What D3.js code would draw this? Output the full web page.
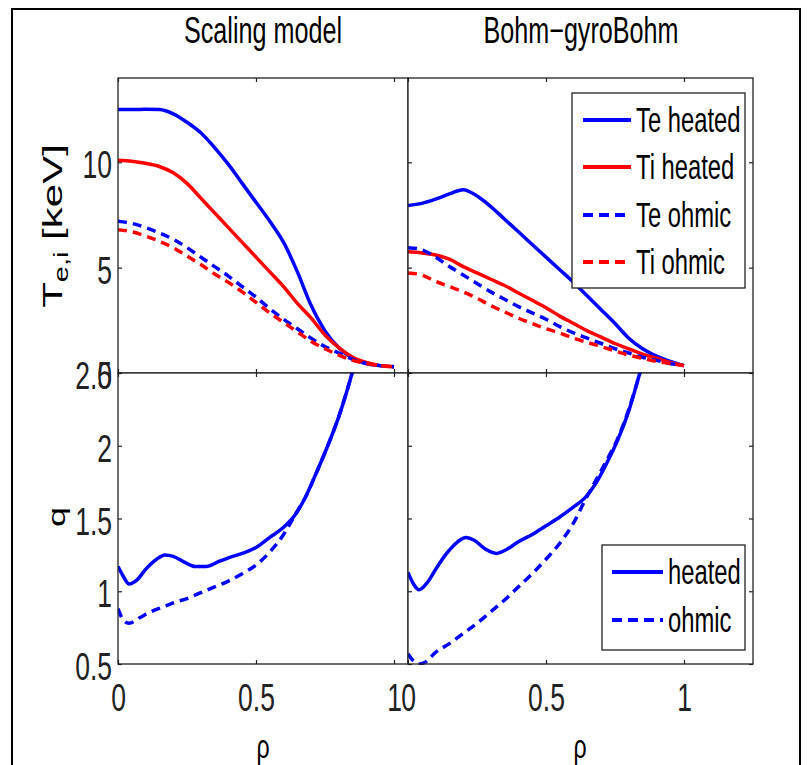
<!DOCTYPE html>
<head>
  <meta charset="utf-8">
  <style>
    body { margin: 0; background: #fff; }
    svg { display: block; font-family: "Liberation Sans", Arial, Helvetica, sans-serif; }
  </style>
</head>
<svg width="807" height="765"></svg>
<script src="https://d3js.org/d3.v7.min.js"></script>
<script>
  // radial grid for the temperature profiles
  var rhoT = [0, 0.05, 0.1, 0.15, 0.2, 0.25, 0.3, 0.35, 0.4, 0.45, 0.5, 0.55, 0.6, 0.65, 0.7, 0.75, 0.8, 0.85, 0.9, 0.95, 1];

  // Scaling model, keV
  var scTeHeated = [12.5, 12.5, 12.52, 12.5, 12.3, 11.9, 11.4, 10.7, 9.9, 9.0, 8.1, 7.2, 6.2, 4.8, 3.2, 2.0, 1.2, 0.7, 0.45, 0.35, 0.3];
  var scTiHeated = [10.1, 10.05, 9.95, 9.8, 9.5, 9.0, 8.3, 7.6, 6.9, 6.2, 5.5, 4.8, 4.1, 3.3, 2.6, 1.8, 1.2, 0.75, 0.5, 0.35, 0.3];
  var scTeOhmic = [7.2, 7.1, 6.9, 6.65, 6.35, 5.95, 5.5, 5.05, 4.6, 4.1, 3.6, 3.05, 2.55, 2.1, 1.65, 1.25, 0.95, 0.65, 0.45, 0.35, 0.3];
  var scTiOhmic = [6.8, 6.7, 6.5, 6.25, 5.95, 5.55, 5.15, 4.7, 4.3, 3.85, 3.35, 2.85, 2.4, 1.95, 1.5, 1.15, 0.85, 0.6, 0.45, 0.35, 0.3];

  // Bohm-gyroBohm, keV
  var bgTeHeated = [7.95, 8.05, 8.25, 8.5, 8.7, 8.4, 7.9, 7.3, 6.7, 6.1, 5.5, 4.9, 4.3, 3.65, 3.0, 2.35, 1.65, 1.15, 0.8, 0.55, 0.35];
  var bgTiHeated = [5.75, 5.7, 5.6, 5.4, 5.05, 4.75, 4.45, 4.15, 3.8, 3.45, 3.1, 2.7, 2.35, 2.0, 1.7, 1.4, 1.15, 0.9, 0.7, 0.5, 0.35];
  var bgTeOhmic = [5.95, 5.85, 5.5, 5.05, 4.65, 4.25, 3.85, 3.5, 3.15, 2.85, 2.55, 2.2, 1.9, 1.65, 1.4, 1.15, 0.95, 0.75, 0.6, 0.45, 0.35];
  var bgTiOhmic = [4.75, 4.65, 4.35, 4.1, 3.85, 3.55, 3.2, 2.9, 2.6, 2.35, 2.1, 1.9, 1.65, 1.45, 1.25, 1.05, 0.85, 0.7, 0.55, 0.45, 0.35];

  // safety factor q, Scaling model
  var qScRhoH = [0, 0.02, 0.04, 0.07, 0.1, 0.14, 0.17, 0.2, 0.24, 0.28, 0.32, 0.36, 0.4, 0.45, 0.5, 0.55, 0.6, 0.64, 0.68, 0.72, 0.76, 0.8, 0.83, 0.86];
  var qScHeated = [1.17, 1.1, 1.05, 1.08, 1.15, 1.22, 1.25, 1.24, 1.2, 1.17, 1.17, 1.2, 1.23, 1.26, 1.3, 1.37, 1.44, 1.52, 1.65, 1.82, 2.0, 2.2, 2.38, 2.58];
  var qScRhoO = [0, 0.02, 0.04, 0.08, 0.12, 0.16, 0.2, 0.25, 0.3, 0.35, 0.4, 0.45, 0.5, 0.55, 0.6, 0.64, 0.68, 0.72, 0.76, 0.8, 0.83, 0.86];
  var qScOhmic = [0.88, 0.8, 0.78, 0.82, 0.86, 0.89, 0.92, 0.95, 0.99, 1.03, 1.07, 1.12, 1.18, 1.27, 1.39, 1.52, 1.65, 1.82, 2.0, 2.2, 2.38, 2.58];

  // safety factor q, Bohm-gyroBohm
  var qBgRhoH = [0, 0.02, 0.04, 0.07, 0.1, 0.14, 0.18, 0.21, 0.24, 0.28, 0.32, 0.36, 0.4, 0.45, 0.5, 0.55, 0.6, 0.64, 0.68, 0.72, 0.76, 0.8, 0.84, 0.87];
  var qBgHeated = [1.13, 1.05, 1.01, 1.06, 1.15, 1.26, 1.34, 1.37, 1.35, 1.29, 1.26, 1.29, 1.34, 1.39, 1.45, 1.51, 1.58, 1.64, 1.74, 1.88, 2.04, 2.24, 2.5, 2.7];
  var qBgRhoO = [0, 0.02, 0.04, 0.06, 0.1, 0.15, 0.2, 0.25, 0.3, 0.35, 0.4, 0.45, 0.5, 0.55, 0.6, 0.64, 0.68, 0.72, 0.76, 0.8, 0.84, 0.87];
  var qBgOhmic = [0.57, 0.52, 0.5, 0.51, 0.58, 0.64, 0.71, 0.78, 0.86, 0.94, 1.03, 1.12, 1.22, 1.33, 1.47, 1.62, 1.76, 1.9, 2.05, 2.25, 2.5, 2.7];

  var tempLegend = ["Te heated", "Ti heated", "Te ohmic", "Ti ohmic"];
  var qLegend = ["heated", "ohmic"];
  var titles = ["Scaling model", "Bohm\u2212gyroBohm"];

  var SX = 0.68; // the original figure is squeezed sideways
  var BLUE = "#0000ff", RED = "#ff0000", INK = "#222";
  var DASH = "9,6";

  var svg = d3.select("svg");

  var xL = d3.scaleLinear().domain([0, 1.25]).range([118, 463]);
  var xR = d3.scaleLinear().domain([0, 1.25]).range([408, 753]);
  var yT = d3.scaleLinear().domain([0, 14]).range([373, 78]);
  var yB = d3.scaleLinear().domain([0.5, 2.5]).range([664, 373]);

  // outer frame
  svg.append("rect")
    .attr("x", 12).attr("y", 9)
    .attr("width", 788).attr("height", 780)
    .attr("fill", "#fff")
    .attr("stroke", "#000")
    .attr("stroke-width", 2);

  function squeeze(g) {
    g.selectAll("text").each(function() {
      var t = d3.select(this);
      var x = +t.attr("x") || 0;
      t.attr("x", x / SX).attr("transform", "scale(" + SX + ",1)");
    });
  }

  function styleAxis(g) {
    g.attr("font-size", 39)
      .attr("font-family", null)
      .attr("color", INK);
    g.select(".domain").remove();
    g.selectAll(".tick line").attr("stroke-width", 1.2);
    squeeze(g);
  }

  var fmt = d3.format("~g");

  // one panel: frame, inward ticks on all visible sides, clipped curves
  function panel(id, x, y, x1, yTicks, opts) {
    var x0 = x.range()[0];
    var y0 = y.range()[0], y1 = y.range()[1];

    svg.append("rect")
      .attr("x", x0).attr("y", y1)
      .attr("width", x1 - x0).attr("height", y0 - y1)
      .attr("fill", "#fff");

    svg.append("clipPath").attr("id", id)
      .append("rect")
      .attr("x", x0).attr("y", y1 - 1)
      .attr("width", x1 - x0).attr("height", y0 - y1 + 2);

    var xTicks = [0, 0.5, 1];

    svg.append("g").attr("transform", "translate(0," + y0 + ")")
      .call(d3.axisBottom(x).tickValues(xTicks).tickSizeInner(-4).tickSizeOuter(0).tickPadding(19)
        .tickFormat(opts.xLabels ? fmt : ""))
      .call(styleAxis);

    svg.append("g").attr("transform", "translate(0," + y1 + ")")
      .call(d3.axisTop(x).tickValues(xTicks).tickSizeInner(-4).tickSizeOuter(0).tickFormat(""))
      .call(styleAxis);

    var left = svg.append("g").attr("transform", "translate(" + x0 + ",0)")
      .call(d3.axisLeft(y).tickValues(yTicks).tickSizeInner(-4).tickSizeOuter(0).tickPadding(6)
        .tickFormat(opts.yLabels ? fmt : ""))
      .call(styleAxis);
    left.selectAll("text").attr("dy", "0.4em");

    if (opts.rightTicks) {
      svg.append("g").attr("transform", "translate(" + x1 + ",0)")
        .call(d3.axisRight(y).tickValues(yTicks).tickSizeInner(-4).tickSizeOuter(0).tickFormat(""))
        .call(styleAxis);
    }

    return svg.append("g").attr("clip-path", "url(#" + id + ")");
  }

  function curve(g, x, y, rho, vals, color, dashed) {
    var line = d3.line()
      .x(function(d) { return x(d[0]); })
      .y(function(d) { return y(d[1]); })
      .curve(d3.curveMonotoneX);
    g.append("path")
      .datum(d3.zip(rho, vals))
      .attr("d", line)
      .attr("fill", "none")
      .attr("stroke", color)
      .attr("stroke-width", 3.5)
      .attr("stroke-dasharray", dashed ? DASH : null)
      .attr("stroke-linejoin", "round");
  }

  function frame(x, y, x1) {
    var x0 = x.range()[0];
    svg.append("rect")
      .attr("x", x0).attr("y", y.range()[1])
      .attr("width", x1 - x0).attr("height", y.range()[0] - y.range()[1])
      .attr("fill", "none")
      .attr("stroke", INK)
      .attr("stroke-width", 1.3);
  }

  function text(x, y, str, size, anchor) {
    return svg.append("text")
      .attr("transform", "translate(" + x + "," + y + ") scale(" + SX + ",1)")
      .attr("text-anchor", anchor || "middle")
      .style("font-size", size + "px")
      .attr("fill", "#000")
      .text(str);
  }

  // top left: Scaling model temperatures
  var g1 = panel("c1", xL, yT, 408, [0, 5, 10], { yLabels: true });
  curve(g1, xL, yT, rhoT, scTeHeated, BLUE, false);
  curve(g1, xL, yT, rhoT, scTiHeated, RED, false);
  curve(g1, xL, yT, rhoT, scTeOhmic, BLUE, true);
  curve(g1, xL, yT, rhoT, scTiOhmic, RED, true);
  frame(xL, yT, 408);

  // bottom left: Scaling model q
  var g3 = panel("c3", xL, yB, 408, [0.5, 1, 1.5, 2, 2.5], { yLabels: true, xLabels: true });
  curve(g3, xL, yB, qScRhoH, qScHeated, BLUE, false);
  curve(g3, xL, yB, qScRhoO, qScOhmic, BLUE, true);
  frame(xL, yB, 408);

  // top right: Bohm-gyroBohm temperatures
  var g2 = panel("c2", xR, yT, 753, [0, 5, 10], { rightTicks: true });
  curve(g2, xR, yT, rhoT, bgTeHeated, BLUE, false);
  curve(g2, xR, yT, rhoT, bgTiHeated, RED, false);
  curve(g2, xR, yT, rhoT, bgTeOhmic, BLUE, true);
  curve(g2, xR, yT, rhoT, bgTiOhmic, RED, true);
  frame(xR, yT, 753);

  // bottom right: Bohm-gyroBohm q
  var g4 = panel("c4", xR, yB, 753, [0.5, 1, 1.5, 2, 2.5], { xLabels: true, rightTicks: true });
  curve(g4, xR, yB, qBgRhoH, qBgHeated, BLUE, false);
  curve(g4, xR, yB, qBgRhoO, qBgOhmic, BLUE, true);
  frame(xR, yB, 753);

  // legends
  function legend(box, rows, entries, colors, dashes, lineX) {
    svg.append("rect")
      .attr("x", box[0]).attr("y", box[1])
      .attr("width", box[2] - box[0]).attr("height", box[3] - box[1])
      .attr("fill", "#fff")
      .attr("stroke", INK)
      .attr("stroke-width", 1.3);
    entries.forEach(function(name, i) {
      svg.append("line")
        .attr("x1", lineX[0]).attr("x2", lineX[1])
        .attr("y1", rows[i]).attr("y2", rows[i])
        .attr("stroke", colors[i])
        .attr("stroke-width", 4)
        .attr("stroke-dasharray", dashes[i] ? "10,6" : null);
      text(lineX[1] + 5, rows[i] + 12, name, 35, "start");
    });
  }

  legend([572, 93, 745, 288], [120, 167, 215, 262], tempLegend,
    [BLUE, RED, BLUE, RED], [false, false, true, true], [583, 631]);
  legend([602, 545, 745, 650], [572, 620], qLegend,
    [BLUE, BLUE], [false, true], [612, 663]);

  // titles
  text(263, 43, titles[0], 37);
  text(581, 43, titles[1], 37);

  // x labels
  text(263, 758, "\u03c1", 34);
  text(580, 758, "\u03c1", 34);

  // y labels (rotated, squeezed across)
  var tl = svg.append("text")
    .attr("transform", "translate(62,226) rotate(-90) scale(1," + SX + ")")
    .attr("text-anchor", "middle")
    .style("font-size", "42px");
  tl.append("tspan").text("T");
  tl.append("tspan").attr("dy", 9).style("font-size", "29px").text("e,i");
  tl.append("tspan").attr("dy", -9).text(" [keV]");

  svg.append("text")
    .attr("transform", "translate(65,517) rotate(-90) scale(1," + SX + ")")
    .attr("text-anchor", "middle")
    .style("font-size", "36px")
    .text("q");
</script>
